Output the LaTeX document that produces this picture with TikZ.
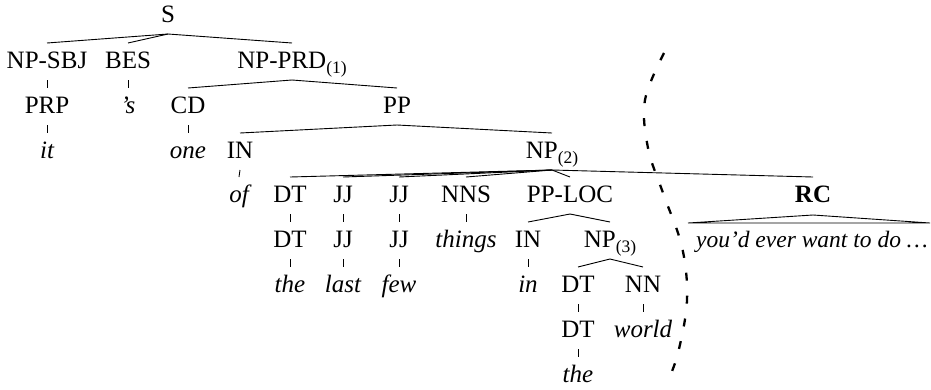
\documentclass[tikz,border=0pt]{standalone}
\usepackage{fontspec}
\setmainfont{Liberation Serif}
\usetikzlibrary{calc}
\newcommand{\fsz}{\fontsize{25}{29}\selectfont}
\newcommand{\subx}[1]{\raisebox{-5pt}{\fontsize{17.5}{18}\selectfont #1}}
\tikzset{
  lab/.style={anchor=base, inner sep=0pt, font=\fsz},
  wrd/.style={lab, font=\fsz\itshape},
  edge/.style={line width=0.9pt},
  cut/.style={line width=2.3pt, dash pattern=on 8pt off 15pt}
}
\newcommand{\tedge}[2]{\draw[edge] ($(#1.base)+(0,12)$) -- ($(#2.base)+(0,-25)$);}
\begin{document}
\begin{tikzpicture}[x=1pt,y=-1pt]
\useasboundingbox (0,0) rectangle (931,389);
% row 1
\node[lab] (S) at (168,22) {S};
% row 2
\node[lab] (NPSBJ) at (47,68) {NP-SBJ};
\node[lab] (BES) at (128,68) {BES};
\node[lab] (NPPRD) at (292,68) {NP-PRD\subx{(1)}};
% row 3
\node[lab] (PRP) at (47,113) {PRP};
\node[wrd] (s) at (128,113) {’s};
\node[lab] (CD) at (188,113) {CD};
\node[lab] (PP) at (397,113) {PP};
% row 4
\node[wrd] (it) at (47,158) {it};
\node[wrd] (one) at (188,158) {one};
\node[lab] (INa) at (240,158) {IN};
\node[lab] (NPb) at (552,158) {NP\subx{(2)}};
% row 5
\node[wrd] (of) at (239,202) {of};
\node[lab] (DTa) at (290,202) {DT};
\node[lab] (JJa) at (343,202) {JJ};
\node[lab] (JJb) at (399,202) {JJ};
\node[lab] (NNS) at (466,202) {NNS};
\node[lab] (PPLOC) at (570,202) {PP-LOC};
\node[lab] (RC) at (813,202) {\textbf{RC}};
% row 6
\node[lab] (DTb) at (290,247) {DT};
\node[lab] (JJc) at (343,247) {JJ};
\node[lab] (JJd) at (399,247) {JJ};
\node[wrd] (things) at (466,247) {things};
\node[lab] (INb) at (528,247) {IN};
\node[lab] (NPc) at (610,247) {NP\subx{(3)}};
\node[wrd, anchor=base east, font=\fontsize{23.5}{28}\selectfont\itshape] (youd) at (928,247) {you’d ever want to do \ldots};
% row 7
\node[wrd] (the1) at (290,292) {the};
\node[wrd] (last) at (343,292) {last};
\node[wrd] (few) at (399,292) {few};
\node[wrd] (in) at (528,292) {in};
\node[lab] (DTc) at (578,292) {DT};
\node[lab] (NN) at (643,292) {NN};
% row 8
\node[lab] (DTd) at (578,337) {DT};
\node[wrd] (world) at (643,337) {world};
% row 9
\node[wrd] (the2) at (578,382) {the};
% edges
\tedge{S}{NPSBJ}\tedge{S}{BES}\tedge{S}{NPPRD}
\tedge{NPSBJ}{PRP}\tedge{BES}{s}
\tedge{NPPRD}{CD}\tedge{NPPRD}{PP}
\tedge{PRP}{it}\tedge{CD}{one}
\tedge{PP}{INa}\tedge{PP}{NPb}
\tedge{INa}{of}
\tedge{NPb}{DTa}\tedge{NPb}{JJa}\tedge{NPb}{JJb}\tedge{NPb}{NNS}\tedge{NPb}{PPLOC}\tedge{NPb}{RC}
\tedge{DTa}{DTb}\tedge{JJa}{JJc}\tedge{JJb}{JJd}\tedge{NNS}{things}
\tedge{PPLOC}{INb}\tedge{PPLOC}{NPc}
\tedge{DTb}{the1}\tedge{JJc}{last}\tedge{JJd}{few}\tedge{INb}{in}
\tedge{NPc}{DTc}\tedge{NPc}{NN}
\tedge{DTc}{DTd}\tedge{NN}{world}
\tedge{DTd}{the2}
% RC triangle
\coordinate (tl) at (688,223);
\coordinate (tr) at (930,223);
\draw[edge] (tl) -- ($(RC.base)+(0,13)$) -- (tr) -- cycle;
% dashed cut
\draw[cut] plot[smooth, tension=0.6] coordinates {(664,53) (645,100) (648,148) (663,193) (682,247) (687,300) (678,353) (667,383)};
\end{tikzpicture}
\end{document}
